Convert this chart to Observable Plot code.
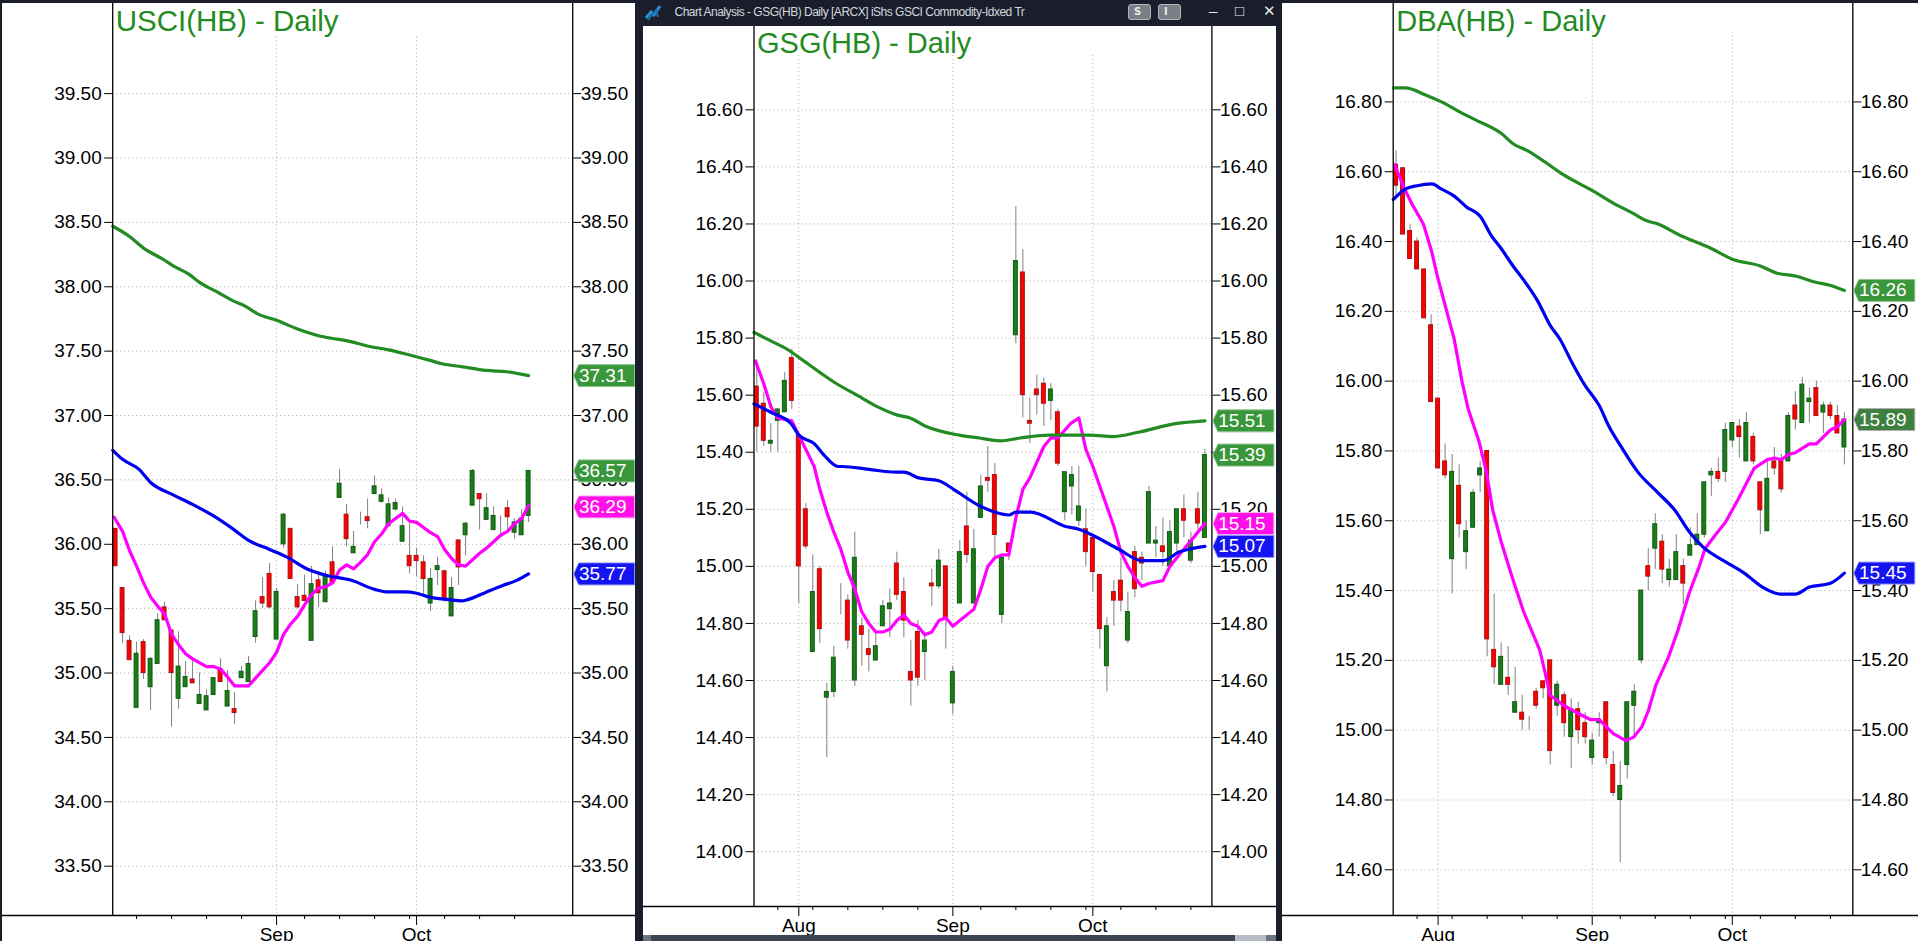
<!DOCTYPE html>
<html>
<head>
<meta charset="utf-8">
<script src="https://cdn.jsdelivr.net/npm/d3@7"></script>
<script src="https://cdn.jsdelivr.net/npm/@observablehq/plot@0.6"></script>
<style>
html,body{margin:0;padding:0;width:1918px;height:941px;overflow:hidden;background:#1a1e2c;font-family:"Liberation Sans",Arial,sans-serif}
.panel{position:absolute;background:#fff;overflow:hidden}
.panel svg{display:block}
#bar{position:absolute;left:643px;top:0;width:633px;height:26px;color:#d4d8de}
#bar .t{position:absolute;left:31.5px;top:5px;font-size:12px;white-space:nowrap;letter-spacing:-.5px}
#bar .b{position:absolute;top:4px;height:16px;width:23px;background:#7a7f86;border:1px solid #b4b8bc;border-radius:3px;box-sizing:border-box;color:#e8e8e8;font:bold 10px "DejaVu Sans";line-height:14px;padding-left:5px}
#bar .w{position:absolute;top:1px;font-size:15px;color:#e8e8e8}
#scroll{position:absolute;left:643px;top:935px;width:633px;height:6px;background:#3d4454}
#scroll i{position:absolute;top:0;height:6px;display:block}
</style>
</head>
<body>
<div id="bar">
<svg width="20" height="20" style="position:absolute;left:1px;top:3px"><path d="M2 15 L7 9 L10 12 L16 3" stroke="#2a8fd0" stroke-width="3" fill="none"/><path d="M4 17 L12 7 L14 14" stroke="#1c6f9f" stroke-width="2" fill="none"/></svg>
<span class="t">Chart Analysis - GSG(HB) Daily [ARCX] iShs GSCI Commodity-Idxed Tr</span>
<span class="b" style="left:485px">S</span><span class="b" style="left:515px">I</span>
<span class="w" style="left:566px;top:2px">&#8211;</span><span class="w" style="left:592px;top:2px">&#9633;</span><span class="w" style="left:620px;top:2px">&#10005;</span>
</div>
<div id="scroll"><i style="left:0;width:8px;background:#6c7280"></i><i style="left:592px;width:31px;background:#b8bcc6"></i><i style="left:623px;width:10px;background:#6c7280"></i></div>
<div id="p1" class="panel" style="left:2px;top:3px;width:633px;height:938px"></div>
<div id="p2" class="panel" style="left:643px;top:26px;width:633px;height:909px"></div>
<div id="p3" class="panel" style="left:1282px;top:3px;width:636px;height:938px"></div>
<script>
// USCI
const usciOpen=[36.12,35.66,35.25,34.73,35.24,34.89,35.07,35.51,35.33,34.80,34.89,34.95,34.76,34.71,34.83,35.03,34.74,34.72,34.96,34.93,35.28,35.59,35.77,35.26,36.00,36.12,35.59,35.60,35.25,35.72,35.55,35.86,36.36,36.23,35.93,36.15,36.21,36.39,36.33,36.14,36.27,36.02,35.91,35.91,35.86,35.54,35.80,35.79,35.44,36.03,36.07,36.30,36.39,36.19,36.11,36.22,36.28,36.09,36.07,36.22];
const usciClose=[35.83,35.31,35.10,35.15,35.00,35.11,35.41,35.41,35.00,35.05,34.97,34.92,34.83,34.82,34.96,34.93,34.86,34.69,35.01,35.07,35.48,35.54,35.51,35.63,36.23,35.73,35.51,35.56,35.69,35.62,35.76,35.70,36.47,36.04,35.98,36.15,36.18,36.45,36.38,36.31,36.32,36.14,35.83,35.87,35.73,35.73,35.83,35.57,35.66,35.82,36.16,36.57,36.35,36.28,36.22,36.22,36.21,36.17,36.20,36.57];
const usciHigh=[36.12,35.66,35.29,35.24,35.26,35.12,35.46,35.55,35.33,35.32,35.09,35.11,35.00,34.87,34.96,35.11,35.02,34.85,35.05,35.13,35.56,35.74,35.85,35.66,36.24,36.12,35.69,35.76,35.83,35.78,35.79,35.98,36.58,36.31,36.10,36.25,36.35,36.53,36.43,36.36,36.35,36.29,36.16,35.97,35.91,35.81,35.90,35.80,35.74,36.03,36.17,36.58,36.39,36.39,36.29,36.22,36.34,36.20,36.27,36.57];
const usciLow=[35.83,35.23,35.10,34.73,34.95,34.71,35.07,35.41,34.58,34.72,34.89,34.92,34.76,34.71,34.83,34.93,34.74,34.60,34.96,34.93,35.23,35.50,35.50,35.26,35.97,35.73,35.50,35.56,35.25,35.51,35.55,35.70,36.36,35.98,35.93,36.15,36.12,36.39,36.32,36.14,36.26,36.02,35.77,35.75,35.60,35.48,35.68,35.55,35.44,35.68,35.91,36.30,36.11,36.19,36.11,36.08,36.10,36.04,36.07,36.17];
const usciMa200X=[-0.4,2,4,6.9,8.3,10.4,12.1,14.5,16.8,18.5,20.3,23,26.1,29,30.8,33.1,36,39,41.3,44.8,46.8,49.4,52.9,55.9,59];
const usciMa200=[38.47,38.39,38.30,38.21,38.16,38.10,38.03,37.96,37.89,37.85,37.79,37.74,37.67,37.62,37.60,37.58,37.54,37.51,37.48,37.43,37.40,37.38,37.35,37.34,37.31];
const usciMa50X=[-0.4,1,3.4,5,8,11,14,17,19,22,24.5,27.3,30,33.7,37,39,41.3,43,44.8,47.7,49.4,50.3,53,55.3,57.3,59];
const usciMa50=[36.73,36.66,36.58,36.48,36.39,36.31,36.22,36.11,36.03,35.96,35.90,35.81,35.76,35.72,35.65,35.63,35.63,35.62,35.59,35.57,35.56,35.57,35.63,35.68,35.72,35.77];
const usciMa10X=[-0.2,1,2,3,4,5,6,7,8,9,10,11,13,14,15,16,17,19,20,22,23,24,25,26,27,28,29,30,31,32,33,34,35,36,37,38,39,40,41,42,43,44,45,46,47,48,49,50,51,52,53,54,55,56,57,58,59];
const usciMa10=[36.21,36.10,35.95,35.83,35.70,35.59,35.52,35.46,35.30,35.22,35.15,35.11,35.05,35.05,35.03,34.97,34.90,34.90,34.96,35.08,35.16,35.30,35.38,35.44,35.53,35.61,35.66,35.67,35.70,35.80,35.84,35.81,35.86,35.92,36.02,36.08,36.16,36.20,36.24,36.18,36.17,36.13,36.09,36.06,35.96,35.89,35.84,35.83,35.88,35.93,35.97,36.02,36.07,36.10,36.16,36.20,36.30];
const usciTicks=[39.5,39,38.5,38,37.5,37,36.5,36,35.5,35,34.5,34,33.5];
const usciMonthAt=[23,43], usciMonths=["Sep","Oct"];
const usciMinor=[3,8,13,18,27,32,37,42,47,52,57];
const usciTags=[[37.31,"green"],[36.57,"green"],[36.29,"pink"],[35.77,"blue"]];

// GSG
const gsgOpen=[15.63,15.57,15.43,15.51,15.54,15.73,15.46,15.20,14.70,14.99,14.54,14.56,14.85,14.88,14.60,14.79,14.71,14.67,14.79,14.85,15.01,14.91,14.63,14.77,14.70,14.94,14.93,15.00,14.52,14.87,15.14,14.87,15.17,15.31,15.32,14.83,15.08,15.81,16.03,15.51,15.62,15.64,15.58,15.54,15.19,15.28,15.16,15.13,15.10,14.97,14.65,14.91,14.95,14.74,15.05,15.03,15.08,15.08,15.07,15.00,15.08,15.20,15.02,15.20,15.10];
const gsgClose=[15.49,15.44,15.44,15.55,15.65,15.58,15.00,15.07,14.91,14.78,14.56,14.68,14.85,14.74,15.03,14.76,14.69,14.72,14.86,14.87,14.90,14.81,14.60,14.61,14.74,14.93,15.02,14.82,14.63,15.05,15.04,15.06,15.28,15.30,15.11,15.03,15.05,16.07,15.60,15.50,15.60,15.57,15.62,15.36,15.33,15.32,15.21,15.05,14.98,14.78,14.79,14.88,14.88,14.84,14.92,15.01,15.26,15.09,15.05,15.12,15.20,15.16,15.09,15.15,15.39];
const gsgHigh=[15.72,15.61,15.50,15.55,15.68,15.76,15.46,15.22,15.04,15.00,14.59,14.72,14.94,14.90,15.12,14.82,14.78,14.77,14.88,14.92,15.05,14.96,14.74,14.81,14.76,14.99,15.06,15.00,14.65,15.09,15.26,15.13,15.32,15.42,15.36,15.04,15.08,16.26,16.11,15.59,15.67,15.66,15.64,15.55,15.33,15.35,15.35,15.20,15.10,14.97,14.82,14.95,15.03,14.91,15.07,15.05,15.28,15.14,15.17,15.16,15.20,15.25,15.12,15.26,15.41];
const gsgLow=[15.40,15.42,15.40,15.40,15.54,15.55,14.87,15.06,14.70,14.73,14.33,14.54,14.83,14.71,14.58,14.65,14.63,14.67,14.79,14.75,14.88,14.75,14.51,14.58,14.60,14.86,14.92,14.71,14.48,14.87,15.01,14.87,15.17,15.26,15.03,14.80,15.02,15.78,15.52,15.43,15.53,15.49,15.51,15.35,15.16,15.18,15.14,15.00,14.91,14.71,14.56,14.79,14.84,14.73,14.89,14.95,15.08,15.03,15.00,15.00,15.05,15.10,15.01,15.12,15.10];
const gsgMa200X=[-0.4,2,4.4,6.7,9,11.4,14.3,17.2,20.1,21.9,24.2,28.9,31.8,34.7,37.6,41.7,47.5,51,54.5,59.8,64];
const gsgMa200=[15.82,15.79,15.76,15.72,15.68,15.64,15.60,15.56,15.53,15.52,15.49,15.46,15.45,15.44,15.45,15.46,15.46,15.455,15.47,15.50,15.51];
const gsgMa50X=[-0.4,2,4.9,6,8.2,9.6,11.6,12.2,16,19.8,21,23.1,26,28.1,32,36,37,39.1,44.1,46,47.9,51.7,55,58.1,60.3,61.7,64];
const gsgMa50=[15.57,15.54,15.50,15.46,15.43,15.39,15.35,15.35,15.34,15.33,15.33,15.31,15.30,15.27,15.21,15.18,15.19,15.19,15.14,15.13,15.11,15.06,15.02,15.02,15.05,15.06,15.07];
const gsgMa10X=[-0.2,1,2,3,5,6,7,8.2,9,10,11,12,13,14,15,16,17,18,19,20,21,22,23,24,25,26,27,28,29,30,31,32,33,34,35,36,37,38,39,41,42,43,44.8,46,47,48,49,51,52,53,54,55,56,58,59,60,61,62,63,64];
const gsgMa10=[15.72,15.64,15.56,15.52,15.51,15.46,15.41,15.35,15.27,15.19,15.12,15.06,14.98,14.92,14.84,14.80,14.77,14.77,14.78,14.81,14.83,14.80,14.79,14.76,14.77,14.81,14.82,14.79,14.81,14.83,14.85,14.92,15.00,15.03,15.04,15.04,15.17,15.27,15.31,15.42,15.45,15.45,15.50,15.52,15.41,15.35,15.28,15.14,15.05,15.00,14.96,14.93,14.94,14.95,15.00,15.03,15.06,15.09,15.12,15.15];
const gsgTicks=[16.6,16.4,16.2,16,15.8,15.6,15.4,15.2,15,14.8,14.6,14.4,14.2,14];
const gsgMonthAt=[6,28,48], gsgMonths=["Aug","Sep","Oct"];
const gsgMinor=[3,8,13,18,23,32,37,42,47,52,57,62];
const gsgTags=[[15.51,"green"],[15.39,"green"],[15.15,"pink"],[15.07,"blue"]];

// DBA
const dbaOpen=[16.62,16.61,16.43,16.40,16.32,16.16,15.95,15.77,15.49,15.70,15.51,15.58,15.73,15.80,15.23,15.13,15.15,15.05,15.05,15.04,15.11,15.14,15.20,15.07,15.10,14.98,15.06,15.02,14.92,15.02,15.08,14.90,14.80,14.90,15.07,15.20,15.47,15.52,15.54,15.43,15.43,15.47,15.50,15.53,15.56,15.73,15.74,15.74,15.83,15.87,15.77,15.84,15.71,15.57,15.77,15.77,15.77,15.93,15.88,15.94,15.98,15.91,15.93,15.90,15.81];
const dbaClose=[16.56,16.42,16.35,16.32,16.18,15.94,15.75,15.73,15.74,15.59,15.57,15.68,15.75,15.26,15.18,15.21,15.13,15.08,15.03,15.04,15.07,15.12,14.94,15.13,15.02,15.06,15.00,14.98,14.97,15.03,14.92,14.82,14.84,15.08,15.11,15.40,15.44,15.59,15.46,15.46,15.51,15.42,15.53,15.56,15.71,15.74,15.72,15.86,15.88,15.84,15.88,15.77,15.63,15.72,15.75,15.69,15.90,15.89,15.99,15.95,15.90,15.93,15.90,15.85,15.89];
const dbaHigh=[16.66,16.61,16.45,16.41,16.32,16.19,15.95,15.82,15.79,15.76,15.60,15.69,15.77,15.80,15.39,15.25,15.24,15.18,15.10,15.04,15.12,15.14,15.20,15.14,15.11,15.09,15.08,15.05,14.99,15.05,15.08,14.94,14.91,15.08,15.13,15.40,15.52,15.62,15.56,15.49,15.56,15.49,15.58,15.62,15.71,15.75,15.78,15.88,15.88,15.89,15.91,15.85,15.71,15.77,15.81,15.79,15.91,15.97,16.01,15.98,16.00,15.94,15.94,15.93,15.91];
const dbaLow=[16.52,16.42,16.35,16.32,16.18,15.94,15.75,15.72,15.39,15.55,15.46,15.58,15.68,15.21,15.13,15.13,15.10,15.05,15.00,15.00,15.06,15.09,14.90,15.04,14.98,14.89,14.96,14.96,14.90,14.98,14.90,14.81,14.62,14.86,14.98,15.19,15.40,15.46,15.42,15.41,15.43,15.36,15.50,15.53,15.55,15.67,15.71,15.71,15.81,15.78,15.77,15.76,15.56,15.57,15.73,15.68,15.77,15.86,15.88,15.88,15.90,15.85,15.89,15.85,15.76];
const dbaMa200X=[-0.4,1.3,4.2,6.5,9.2,11.2,15,16.7,18.8,21.1,24,28.1,31,33.9,35.7,37.4,40.3,45,47.9,52,54.3,57.3,59.6,61.9,64];
const dbaMa200=[16.84,16.84,16.82,16.80,16.77,16.75,16.71,16.68,16.66,16.63,16.59,16.545,16.51,16.48,16.46,16.45,16.42,16.38,16.35,16.33,16.31,16.30,16.285,16.275,16.26];
const dbaMa50X=[-0.4,1.3,3,5.1,6.5,8.3,10,12.1,13.5,15,16.7,18.2,20.2,22,23.4,25.2,26.9,29,30.4,32.2,34.5,37.4,39.8,41.8,43.8,46.8,49.7,52.3,54.9,57,59,61.9,64];
const dbaMa50=[16.52,16.55,16.56,16.565,16.55,16.53,16.50,16.47,16.42,16.38,16.33,16.29,16.23,16.16,16.12,16.05,15.99,15.93,15.87,15.81,15.74,15.68,15.63,15.57,15.525,15.485,15.45,15.41,15.39,15.39,15.41,15.42,15.45];
const dbaMa10X=[-0.2,1,2.2,3.9,5.1,5.9,7.1,8.3,9.4,10.3,11.8,12.9,13.8,15,16.7,18.2,20.5,21.1,22,24,25.8,27.8,29,31,32.8,33.9,35.1,36,37.1,38.9,40.3,41.8,43.3,44.1,45.6,47,48.8,51.1,53,54,55,56,57,59,60,61,62,63,64];
const dbaMa10=[16.62,16.56,16.51,16.45,16.37,16.30,16.21,16.12,16.00,15.92,15.83,15.74,15.63,15.54,15.43,15.34,15.23,15.18,15.10,15.07,15.05,15.03,15.03,14.99,14.97,14.98,15.01,15.055,15.13,15.21,15.29,15.39,15.47,15.52,15.56,15.595,15.66,15.75,15.775,15.78,15.775,15.79,15.795,15.82,15.82,15.84,15.86,15.87,15.89];
const dbaTicks=[16.8,16.6,16.4,16.2,16,15.8,15.6,15.4,15.2,15,14.8,14.6];
const dbaMonthAt=[6,28,48], dbaMonths=["Aug","Sep","Oct"];
const dbaMinor=[3,8,13,18,23,32,37,42,47,52,57,62];
const dbaTags=[[16.26,"green"],[15.89,"dark"],[15.45,"blue"]];

const lineColors={ma200:"#228b22",ma50:"#0000f0",ma10:"#ff00ff"};
const tagFill={green:"#3a963a",dark:"#3f803f",pink:"#ff10e8",blue:"#1414f0"};
const tagEdge={green:"#8ec48e",dark:"#b0b0b0",pink:"#ffb0f4",blue:"#9090ff"};
const tagSymbol={draw(c){c.moveTo(-31,0);c.lineTo(-26,-11);c.lineTo(30,-11);c.lineTo(30,11);c.lineTo(-26,11);c.closePath();}};

function panel(o){
  const bars=o.open.map((v,i)=>({i,open:v,close:o.close[i],high:o.high[i],low:o.low[i]}));
  const pts=(xs,ys)=>xs.map((x,k)=>({x,y:ys[k]}));
  const up=d=>d.close>=d.open;
  const tags=o.tags.map(([value,kind])=>({value,kind}));
  const grid={stroke:"#a8a8a8",strokeOpacity:1,strokeDasharray:"1 3"};
  const xMax=o.xDomain[1];
  const names=d=>o.months[o.monthAt.indexOf(d)];
  const svg=Plot.plot({
    width:o.width,height:o.height,marginLeft:o.ml,marginRight:o.mr,marginTop:0,marginBottom:o.mb,
    style:{fontFamily:"'Liberation Sans',Arial,sans-serif",background:"#fff",color:"#000"},
    x:{domain:o.xDomain},y:{domain:o.yDomain},
    marks:[
      Plot.gridY(o.ticks,grid),
      Plot.ruleX(o.monthAt,{y1:o.vTop,y2:o.yDomain[0],...grid}),
      Plot.ruleX(bars,{x:"i",y1:"low",y2:"high",stroke:"#808080",strokeWidth:1}),
      Plot.rect(bars,{x1:d=>d.i-0.28,x2:d=>d.i+0.28,y1:"open",y2:"close",
        fill:d=>up(d)?"#1a7d1a":"#ff0000",stroke:d=>up(d)?"#0e5a0e":"#a81010",strokeWidth:1}),
      Plot.line(pts(o.ma10X,o.ma10),{x:"x",y:"y",stroke:lineColors.ma10,strokeWidth:3.2}),
      Plot.line(pts(o.ma200X,o.ma200),{x:"x",y:"y",stroke:lineColors.ma200,strokeWidth:3.2,curve:"monotone-x"}),
      Plot.line(pts(o.ma50X,o.ma50),{x:"x",y:"y",stroke:lineColors.ma50,strokeWidth:3.2,curve:"monotone-x"}),
      Plot.ruleX(o.xDomain,{stroke:"#000",strokeWidth:1.3}),
      Plot.ruleY([o.yDomain[0]],{stroke:"#000",strokeWidth:1.3,insetLeft:-o.ml,insetRight:-o.mr}),
      Plot.axisY({anchor:"left",ticks:o.ticks,tickFormat:d=>d.toFixed(2),tickSize:8,tickPadding:3,fontSize:19,label:null,color:"#000"}),
      Plot.axisY({anchor:"right",ticks:o.ticks,tickFormat:d=>d.toFixed(2),tickSize:8,tickPadding:0,fontSize:19,label:null,color:"#000"}),
      Plot.axisX({ticks:o.minor,tickSize:4,tickFormat:()=>"",label:null}),
      Plot.axisX({ticks:o.monthAt,tickFormat:names,tickSize:10,tickPadding:2,fontSize:19,label:null,color:"#000"}),
      Plot.dot(tags,{x:()=>xMax,y:"value",symbol:tagSymbol,r:5,dx:32,fill:d=>tagFill[d.kind],stroke:d=>tagEdge[d.kind],strokeWidth:1}),
      Plot.text(tags,{x:()=>xMax,y:"value",text:d=>d.value.toFixed(2),dx:30,fill:"#fff",fontSize:19}),
      Plot.text([o.title],{frameAnchor:"top-left",dx:3,dy:o.titleDy,text:d=>d,textAnchor:"start",fill:"#228b22",fontSize:o.titleSize,lineAnchor:"top"})
    ]
  });
  document.getElementById(o.id).appendChild(svg);
}

panel({id:"p1",title:"USCI(HB) - Daily",titleSize:29.5,titleDy:7,width:633,height:938,ml:110.2,mr:62.8,mb:26,
  xDomain:[-0.41,65.3],yDomain:[33.117,40.2],vTop:39.94,ticks:usciTicks,monthAt:usciMonthAt,months:usciMonths,minor:usciMinor,tags:usciTags,
  open:usciOpen,close:usciClose,high:usciHigh,low:usciLow,ma200X:usciMa200X,ma200:usciMa200,ma50X:usciMa50X,ma50:usciMa50,ma10X:usciMa10X,ma10:usciMa10});
panel({id:"p2",title:"GSG(HB) - Daily",titleSize:29,titleDy:6,width:633,height:909,ml:110.5,mr:64.6,mb:29,
  xDomain:[-0.4,65],yDomain:[13.808,16.892],vTop:16.79,ticks:gsgTicks,monthAt:gsgMonthAt,months:gsgMonths,minor:gsgMinor,tags:gsgTags,
  open:gsgOpen,close:gsgClose,high:gsgHigh,low:gsgLow,ma200X:gsgMa200X,ma200:gsgMa200,ma50X:gsgMa50X,ma50:gsgMa50,ma10X:gsgMa10X,ma10:gsgMa10});
panel({id:"p3",title:"DBA(HB) - Daily",titleSize:29,titleDy:7,width:636,height:938,ml:110.7,mr:65.7,mb:26,
  xDomain:[-0.41,65.2],yDomain:[14.469,17.082],vTop:17.0,ticks:dbaTicks,monthAt:dbaMonthAt,months:dbaMonths,minor:dbaMinor,tags:dbaTags,
  open:dbaOpen,close:dbaClose,high:dbaHigh,low:dbaLow,ma200X:dbaMa200X,ma200:dbaMa200,ma50X:dbaMa50X,ma50:dbaMa50,ma10X:dbaMa10X,ma10:dbaMa10});
</script>
</body>
</html>
